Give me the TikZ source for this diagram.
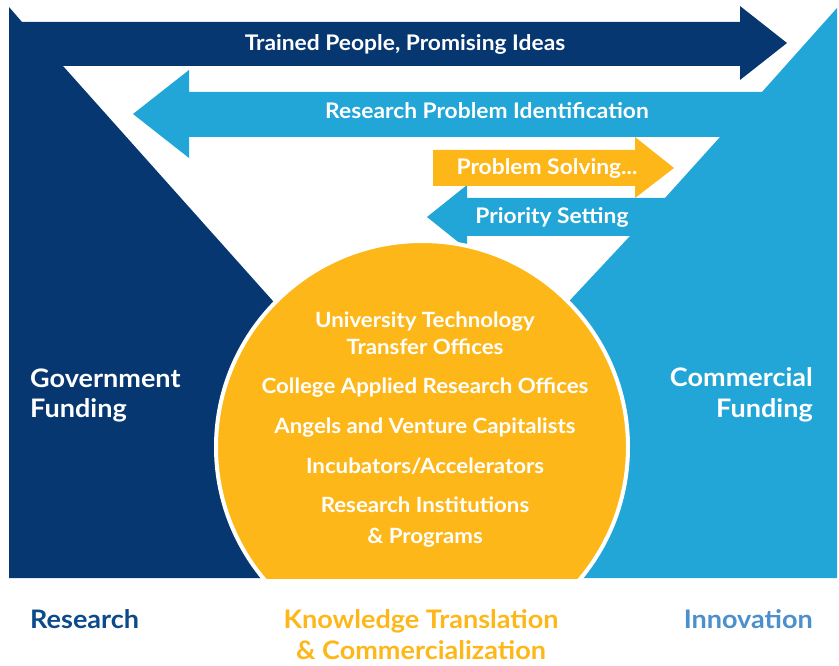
\documentclass[tikz,border=0pt]{standalone}
\usepackage{fontspec}
\setmainfont[FakeStretch=1.06]{Lato}
\definecolor{dkblue}{HTML}{063771}
\definecolor{ltblue}{HTML}{22A5D7}
\definecolor{gold}{HTML}{FDB719}
\definecolor{innov}{HTML}{4C8FCD}
\definecolor{resblue}{HTML}{0C4A8A}
\begin{document}
\begin{tikzpicture}[x=1pt,y=-1pt,
  lbl/.style={text=white,font=\bfseries\fontsize{21.5}{24}\selectfont,inner sep=0pt,anchor=base},
  inlbl/.style={text=white,font=\bfseries\fontsize{21}{24}\selectfont,inner sep=0pt,anchor=base},
  side/.style={text=white,font=\bfseries\fontsize{25.5}{28}\selectfont,inner sep=0pt},
  foot/.style={font=\bfseries\fontsize{25.5}{30}\selectfont,inner sep=0pt}]
\useasboundingbox (0,0) rectangle (839,666);
% left funnel with top arrow
\fill[dkblue] (9,7) -- (22,22) -- (740,22) -- (740,6) -- (787,43) -- (740,80) -- (740,66)
  -- (63,66) -- (272,300) -- (360,400) -- (360,578) -- (9,578) -- cycle;
% right funnel with two arrows
\fill[ltblue] (837,8) -- (762,92) -- (189,92) -- (189,70) -- (133,114) -- (189,158) -- (189,137)
  -- (720,137) -- (665,198) -- (467,198) -- (467,185) -- (427,217) -- (467,249) -- (467,236)
  -- (630,236) -- (573,297) -- (480,400) -- (480,578) -- (837,578) -- cycle;
% yellow arrow
\fill[gold] (433,150) -- (635,150) -- (635,137) -- (674,168) -- (635,198) -- (635,186) -- (433,186) -- cycle;
% circle
\begin{scope}
\clip (0,0) rectangle (839,578);
\fill[gold,draw=white,line width=4pt] (422,447) circle (206);
\end{scope}
% arrow labels
\node[lbl] (t1) at (405,51) {Trained People, Promising Ideas};
\node[lbl] (t2) at (487,119) {Research Problem Identification};
\node[lbl] (t3) at (547,175) {Problem Solving...};
\node[lbl] (t4) at (552,224) {Priority Setting};
% circle labels
\node[inlbl] (c1a) at (425,327) {University Technology};
\node[inlbl] (c1b) at (425,354) {Transfer Offices};
\node[inlbl] (c2) at (425,393) {College Applied Research Offices};
\node[inlbl] (c3) at (425,433) {Angels and Venture Capitalists};
\node[inlbl] (c4) at (425,473) {Incubators/Accelerators};
\node[inlbl] (c5a) at (425,512) {Research Institutions};
\node[inlbl] (c5b) at (425,543) {\& Programs};
% side labels
\node[side,anchor=base west] (g1) at (30,387) {Government};
\node[side,anchor=base west] (g2) at (30,417) {Funding};
\node[side,anchor=base east] (m1) at (813,386) {Commercial};
\node[side,anchor=base east] (m2) at (813,417) {Funding};
% footer labels
\node[foot,text=resblue,anchor=base west] (r) at (30,628) {Research};
\node[foot,text=gold,anchor=base] (k1) at (421,628) {Knowledge Translation};
\node[foot,text=gold,anchor=base] (k2) at (421,659) {\& Commercialization};
\node[foot,text=innov,anchor=base east] (i) at (813,628) {Innovation};
\end{tikzpicture}
\end{document}
